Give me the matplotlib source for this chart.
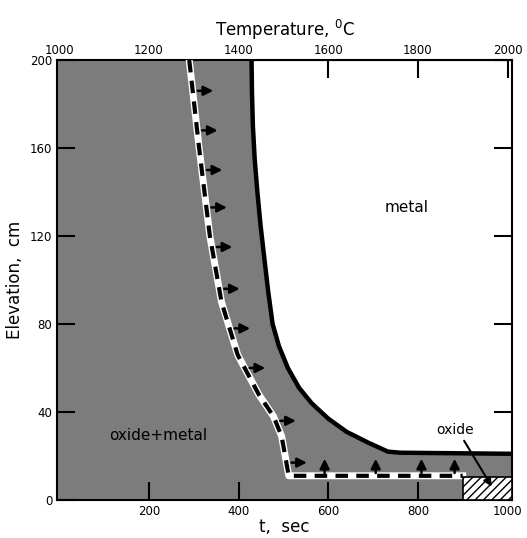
import matplotlib
matplotlib.use("Agg")
import matplotlib.pyplot as plt
import numpy as np
from matplotlib.patches import Rectangle, Polygon

# boundary between oxide+metal and metal (solid curve)
curve_t = [429, 430, 432, 436, 442, 449, 458, 466, 476, 490, 510, 535, 563, 600, 641, 690, 733, 760, 1010]
curve_z = [200, 185, 170, 155, 140, 125, 109, 95, 80, 70, 60, 51, 44, 37, 31, 26, 22, 21.5, 21]

# dashed path
dash_t = [290, 312, 336, 362, 398, 445, 478, 496, 512, 600, 900]
dash_z = [200, 160, 120, 90, 66, 48, 38, 29, 11, 11, 11]

# right-pointing arrows (elevation levels)
arrow_right_z = [186, 168, 150, 133, 115, 96, 78, 60, 36, 17]
# upward arrows (time positions)
arrow_up_t = [592, 706, 808, 882]

xticks = [200, 400, 600, 800, 1000]
yticks = [0, 40, 80, 120, 160, 200]
temp_ticks = [1000, 1200, 1400, 1600, 1800, 2000]

fig = plt.figure(figsize=(5.27, 5.38), dpi=100)
ax = fig.add_axes([57/527, 38/538, 455/527, 440/538])
xmin, xmax = -5, 1010
ax.set_xlim(xmin, xmax)
ax.set_ylim(0, 200)

gray = "#7c7c7c"
poly = [(xmin, 0), (xmin, 200)] + list(zip(curve_t, curve_z)) + [(xmax, 0)]
ax.add_patch(Polygon(poly, closed=True, facecolor=gray, edgecolor="none", zorder=1))
ax.plot(curve_t, curve_z, color="black", lw=3.2, zorder=3, solid_capstyle="butt")

# dashed path
ax.plot(dash_t, dash_z, color="white", lw=5, zorder=4)
ax.plot(dash_t, dash_z, color="black", lw=3, ls=(0, (3, 2)), zorder=5)

nv = 9
vz = dash_z[:nv][::-1]
vt = dash_t[:nv][::-1]
for z in arrow_right_z:
    x0 = np.interp(z, vz, vt)
    ax.annotate("", xy=(x0 + 52, z), xytext=(x0 + 5, z),
                arrowprops=dict(arrowstyle="-|>", color="black", lw=1.8,
                                mutation_scale=14), zorder=6)
for t in arrow_up_t:
    ax.annotate("", xy=(t, 20), xytext=(t, 11),
                arrowprops=dict(arrowstyle="-|>", color="black", lw=1.8,
                                mutation_scale=14), zorder=6)

# oxide hatched block
ax.add_patch(Rectangle((900, 0), xmax - 900, 10.5, facecolor="white",
                       edgecolor="black", hatch="////", lw=1.2, zorder=7))
ax.annotate("", xy=(968, 5), xytext=(900, 28),
            arrowprops=dict(arrowstyle="-|>", color="black", lw=1.5, mutation_scale=12), zorder=8)

ax.text(775, 133, "metal", fontsize=11, ha="center", va="center", zorder=8)
ax.text(220, 29.5, "oxide+metal", fontsize=11, ha="center", va="center", zorder=8)
ax.text(882, 32, "oxide", fontsize=10, ha="center", va="center", zorder=8)

ax.set_xticks(xticks)
ax.set_yticks(yticks)
ax.tick_params(direction="in", length=13, width=1.5, labelsize=8.5,
               right=True, top=False)
ax.set_xlabel("t,  sec", fontsize=12, labelpad=0)
ax.set_ylabel("Elevation,  cm", fontsize=12)
for s in ax.spines.values():
    s.set_linewidth(1.5)

sec = ax.secondary_xaxis("top", functions=(lambda t: t + 1000, lambda T: T - 1000))
sec.set_xticks(temp_ticks)
sec.tick_params(direction="in", length=13, width=1.5, labelsize=8.5, pad=2)
sec.set_xlabel("Temperature, $^{0}$C", fontsize=12, labelpad=6)

fig.savefig("out.png", dpi=100)
